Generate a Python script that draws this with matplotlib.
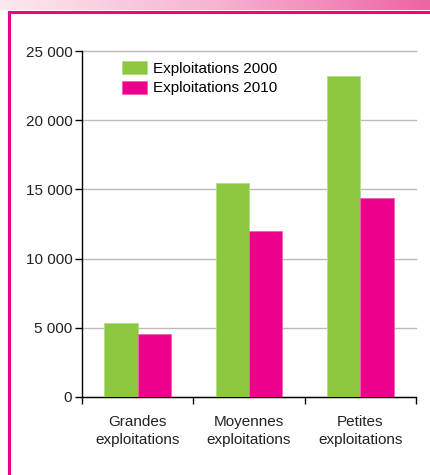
import numpy as np
import matplotlib
matplotlib.use('Agg')
import matplotlib.pyplot as plt
from matplotlib.ticker import FuncFormatter, FixedLocator
from matplotlib.lines import Line2D
from matplotlib.colors import LinearSegmentedColormap

# Données
categories = ['Grandes\nexploitations', 'Moyennes\nexploitations', 'Petites\nexploitations']
exploitations_2000 = [5330, 15470, 23230]
exploitations_2010 = [4540, 11970, 14420]
series_labels = ['Exploitations 2000', 'Exploitations 2010']

vert = '#8DC63F'
rose = '#EC008C'

plt.rcParams['font.family'] = ['Liberation Sans', 'DejaVu Sans']
plt.rcParams['font.size'] = 11

fig = plt.figure(figsize=(4.3, 4.75), dpi=100)

# Bandeau dégradé en haut
ax_band = fig.add_axes([0, 1 - 10 / 475, 1, 10 / 475])
grad = np.linspace(0, 1, 256).reshape(1, -1)
cmap = LinearSegmentedColormap.from_list('bandeau', ['#FDE8F1', '#F7B3D2', '#EE64A4'])
ax_band.imshow(grad, aspect='auto', cmap=cmap, extent=[0, 1, 0, 1])
ax_band.axis('off')

# Cadre rose
fig.add_artist(Line2D([9 / 430, 1], [1 - 12 / 475, 1 - 12 / 475], color=rose, lw=2.2,
                      transform=fig.transFigure))
fig.add_artist(Line2D([9 / 430, 9 / 430], [0, 1 - 12 / 475], color=rose, lw=2.2,
                      transform=fig.transFigure))

ax = fig.add_axes([82 / 430, 1 - 396.5 / 475, 334 / 430, 345 / 475])

x = np.arange(len(categories))
largeur = 0.3
ax.bar(x - largeur / 2, exploitations_2000, largeur, color=vert, edgecolor='#B5DC85',
       linewidth=0.6, label=series_labels[0], zorder=3)
ax.bar(x + largeur / 2, exploitations_2010, largeur, color=rose, edgecolor='#F45CB4',
       linewidth=0.6, label=series_labels[1], zorder=3)

ax.set_xlim(-0.5, 2.5)
ax.set_ylim(0, 25000)
ax.set_yticks(np.arange(0, 25001, 5000))
ax.yaxis.set_major_formatter(FuncFormatter(lambda v, p: f"{int(v):,}".replace(',', ' ')))
ax.grid(axis='y', color='#BBBBBB', linewidth=1, zorder=0)
for gl in ax.get_ygridlines():
    gl.set_clip_on(False)

ax.set_xticks(x)
ax.set_xticklabels(categories, linespacing=1.38)
ax.xaxis.set_minor_locator(FixedLocator([-0.5, 0.5, 1.5, 2.5]))
ax.tick_params(axis='x', which='major', length=0, pad=13, colors='#222222')
ax.tick_params(axis='x', which='minor', length=5, width=1, color='black', direction='out')
ax.tick_params(axis='y', length=5, width=1, pad=2, colors='#222222')
ax.tick_params(axis='y', color='black')

for s in ['top', 'right']:
    ax.spines[s].set_visible(False)
ax.spines['left'].set_linewidth(1)
ax.spines['bottom'].set_linewidth(1)

ax.legend(loc='upper left', bbox_to_anchor=(0.12, 0.972), frameon=False, borderpad=0,
          borderaxespad=0, handlelength=1.65, handleheight=0.95, handletextpad=0.4,
          labelspacing=0.3, fontsize=11)

fig.savefig('out.png', dpi=100)
